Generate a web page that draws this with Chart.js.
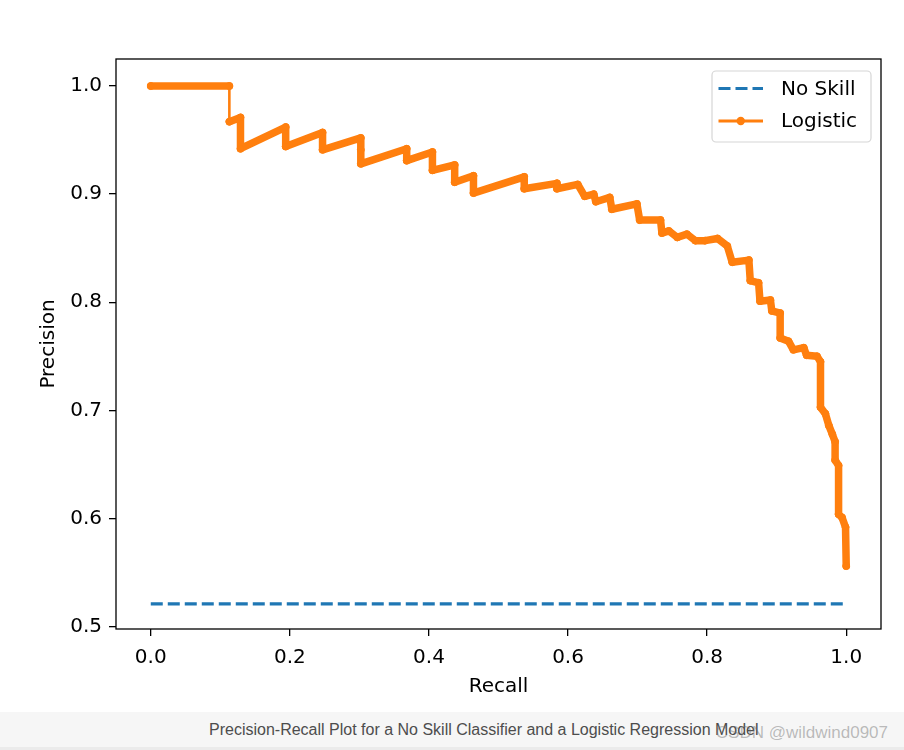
<!DOCTYPE html>
<html>
<head>
<meta charset="utf-8">
<script src="https://cdn.jsdelivr.net/npm/chart.js@4/dist/chart.umd.min.js"></script>
<style>
  html, body { margin: 0; padding: 0; background: #fff; }
  #wrap { position: relative; width: 904px; height: 750px; overflow: hidden; }
  #cv { position: absolute; left: 0; top: 0; }
  #bar { position: absolute; left: 0; top: 712px; width: 904px; height: 35px; background: #f6f6f6; }
  #strip { position: absolute; left: 0; top: 747px; width: 904px; height: 3px; background: #ebebeb; }
  #caption { position: absolute; left: 209px; top: 721px; font: 16px "Liberation Sans", Arial, sans-serif; color: #4d4d4d; white-space: nowrap; }
  #wm { position: absolute; right: 16px; top: 723px; font: 17px "Liberation Sans", Arial, sans-serif; color: rgba(110,110,110,0.45); white-space: nowrap; }
</style>
</head>
<body>
<div id="wrap">
  <canvas id="cv" width="904" height="712"></canvas>
  <div id="bar"></div>
  <div id="strip"></div>
  <div id="caption">Precision-Recall Plot for a No Skill Classifier and a Logistic Regression Model</div>
  <div id="wm">CSDN @wildwind0907</div>
</div>
<script>
// ---- data ----
const noSkillRecall = [0, 1];
const noSkillPrecision = [0.521, 0.521];

const recall = [0.000,0.113,0.113,0.129,0.129,0.194,0.194,0.247,0.247,0.302,0.302,0.302,0.368,0.368,0.405,0.405,0.437,0.437,0.464,0.464,0.537,0.537,0.584,0.584,0.614,0.624,0.637,0.640,0.660,0.663,0.699,0.703,0.733,0.735,0.745,0.757,0.771,0.783,0.797,0.815,0.829,0.836,0.860,0.862,0.874,0.876,0.891,0.893,0.905,0.905,0.917,0.924,0.939,0.943,0.958,0.963,0.963,0.970,0.975,0.980,0.984,0.984,0.989,0.989,0.994,0.999,1.000];
const precision = [1.000,1.000,0.967,0.971,0.942,0.962,0.944,0.957,0.941,0.952,0.941,0.928,0.942,0.931,0.939,0.922,0.927,0.911,0.917,0.901,0.916,0.905,0.910,0.905,0.909,0.898,0.900,0.893,0.897,0.886,0.891,0.876,0.876,0.864,0.866,0.860,0.863,0.857,0.857,0.859,0.852,0.837,0.839,0.820,0.818,0.801,0.802,0.792,0.790,0.767,0.764,0.756,0.758,0.751,0.750,0.745,0.703,0.697,0.686,0.678,0.671,0.654,0.649,0.604,0.601,0.592,0.556];

const seriesNames = ['No Skill', 'Logistic'];
const xTickValues = [0.0, 0.2, 0.4, 0.6, 0.8, 1.0];
const yTickValues = [0.5, 0.6, 0.7, 0.8, 0.9, 1.0];
const xTitle = 'Recall';
const yTitle = 'Precision';

// ---- build ----
const toPts = (xs, ys) => xs.map((x, i) => ({x: x, y: ys[i]}));
const BLUE = '#1f77b4', ORANGE = '#ff7f0e';

Chart.defaults.font.family = '"DejaVu Sans", sans-serif';
Chart.defaults.font.size = 20;
Chart.defaults.color = '#000';

const framePlugin = {
  id: 'frame',
  afterDatasetsDraw(chart) {
    const {ctx, chartArea: a} = chart;
    ctx.save();
    ctx.strokeStyle = '#000';
    ctx.lineWidth = 1.3;
    ctx.strokeRect(a.left, a.top, a.right - a.left, a.bottom - a.top);
    ctx.restore();
  }
};

const legendPlugin = {
  id: 'mplLegend',
  afterDraw(chart) {
    const {ctx, chartArea: a} = chart;
    const bw = 159, bh = 71;
    const bx = a.right - 10 - bw, by = a.top + 12;
    ctx.save();
    ctx.beginPath();
    ctx.roundRect(bx, by, bw, bh, 4);
    ctx.fillStyle = 'rgba(255,255,255,0.9)';
    ctx.fill();
    ctx.strokeStyle = '#d6d6d6';
    ctx.lineWidth = 1.2;
    ctx.stroke();
    const ds = chart.data.datasets;
    const rows = [by + 17.5, by + 50];
    ds.forEach((d, i) => {
      const y = rows[i];
      const x0 = bx + 6.5, x1 = bx + 51;
      ctx.beginPath();
      ctx.setLineDash(d.borderDash || []);
      ctx.lineCap = 'butt';
      ctx.strokeStyle = d.borderColor;
      ctx.lineWidth = 3.2;
      ctx.moveTo(x0, y); ctx.lineTo(x1, y);
      ctx.stroke();
      ctx.setLineDash([]);
      if (d.pointRadius > 0) {
        ctx.beginPath();
        ctx.arc((x0 + x1) / 2, y, 4.2, 0, Math.PI * 2);
        ctx.fillStyle = d.borderColor;
        ctx.fill();
      }
      ctx.fillStyle = '#000';
      ctx.font = '20px "DejaVu Sans", sans-serif';
      ctx.textBaseline = 'middle';
      ctx.textAlign = 'left';
      ctx.fillText(d.label, bx + 69, y + 1);
    });
    ctx.restore();
  }
};

new Chart(document.getElementById('cv'), {
  type: 'scatter',
  data: {
    datasets: [
      {
        label: seriesNames[0],
        data: toPts(noSkillRecall, noSkillPrecision),
        showLine: true,
        borderColor: BLUE,
        backgroundColor: BLUE,
        borderWidth: 3.2,
        borderDash: [12, 5],
        pointRadius: 0,
        order: 2
      },
      {
        label: seriesNames[1],
        data: toPts(recall, precision),
        showLine: true,
        borderColor: ORANGE,
        backgroundColor: ORANGE,
        borderWidth: 7.5,
        borderCapStyle: 'round',
        borderJoinStyle: 'round',
        pointRadius: 3.5,
        pointBorderWidth: 1,
        pointBackgroundColor: ORANGE,
        pointBorderColor: ORANGE,
        segment: {
          borderWidth: c => (c.p0.parsed.y === 1 && c.p0.parsed.x === c.p1.parsed.x) ? 2.6 : 7.5
        },
        order: 1
      }
    ]
  },
  options: {
    responsive: false,
    animation: false,
    events: [],
    layout: { padding: { top: 59, right: 23, left: 0, bottom: 0 } },
    plugins: { legend: { display: false }, tooltip: { enabled: false } },
    scales: {
      x: {
        type: 'linear',
        min: -0.05, max: 1.05,
        afterBuildTicks: s => { s.ticks = xTickValues.map(v => ({value: v})); },
        afterFit: s => { s.height = 83; },
        ticks: { padding: 10, callback: v => Number(v).toFixed(1), color: '#000', font: {size: 20} },
        grid: { drawOnChartArea: false, drawTicks: true, tickLength: 7, color: '#000', lineWidth: 1.3 },
        border: { display: false },
        title: { display: true, text: xTitle, color: '#000', font: {size: 20, lineHeight: 1.2}, padding: {top: 0, bottom: 13} }
      },
      y: {
        type: 'linear',
        min: 0.4978, max: 1.025,
        afterBuildTicks: s => { s.ticks = yTickValues.map(v => ({value: v})); },
        afterFit: s => { s.width = 116; },
        ticks: { padding: 7, callback: v => Number(v).toFixed(1), color: '#000', font: {size: 20} },
        grid: { drawOnChartArea: false, drawTicks: true, tickLength: 7, color: '#000', lineWidth: 1.3 },
        border: { display: false },
        title: { display: true, text: yTitle, color: '#000', font: {size: 20, lineHeight: 1.2}, padding: {top: 37, bottom: 0} }
      }
    }
  },
  plugins: [framePlugin, legendPlugin]
});
</script>
</body>
</html>
